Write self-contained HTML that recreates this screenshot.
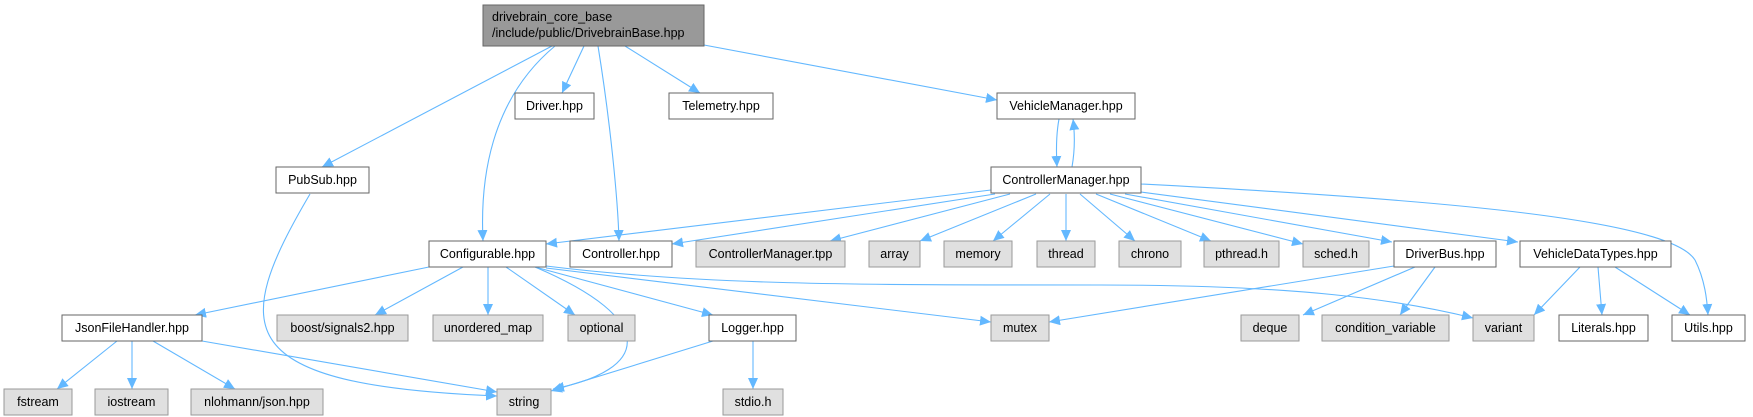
<!DOCTYPE html>
<html><head><meta charset="utf-8"><style>
html,body{margin:0;padding:0;background:#fff;}
svg{display:block;}
text{font-family:"Liberation Sans",Arial,sans-serif;font-size:12.5px;fill:#000;}
.w{fill:#fff;stroke:#666;stroke-width:1}
.g{fill:#e0e0e0;stroke:#999;stroke-width:1}
.e{fill:none;stroke:#63b8ff;stroke-width:1.1;marker-end:url(#a)}
</style></head><body>
<svg width="1753" height="417" viewBox="0 0 1753 417" xmlns="http://www.w3.org/2000/svg">
<defs><marker id="a" markerUnits="userSpaceOnUse" markerWidth="12" markerHeight="10" refX="11" refY="5" orient="auto"><path d="M0,0 L11,5 L0,10 z" fill="#63b8ff"/></marker></defs>
<!-- edges -->
<path class="e" d="M552,46 L322,167"/>
<path class="e" d="M555,46 C490,100 480,180 483,241"/>
<path class="e" d="M584,46 L562,93"/>
<path class="e" d="M598,46 C610,120 618,200 619,241"/>
<path class="e" d="M625,46 L700,93"/>
<path class="e" d="M704,45 L997,100"/>
<path class="e" d="M1059,119 C1056,135 1056,150 1057,167"/>
<path class="e" d="M1072,167 C1075,150 1075,135 1073,119"/>
<path class="e" d="M991,190 L546,244"/>
<path class="e" d="M995,194 L672,244"/>
<path class="e" d="M1010,194 L830,241"/>
<path class="e" d="M1036,194 L920,241"/>
<path class="e" d="M1050,194 L993,241"/>
<path class="e" d="M1066,194 L1066,241"/>
<path class="e" d="M1080,194 L1135,241"/>
<path class="e" d="M1096,194 L1211,241"/>
<path class="e" d="M1110,194 L1303,244"/>
<path class="e" d="M1125,194 L1392,242"/>
<path class="e" d="M1141,192 L1518,242"/>
<path class="e" d="M1141,184 C1450,200 1670,220 1695,260 C1705,280 1707,300 1708,315"/>
<path class="e" d="M429,267 L195,315"/>
<path class="e" d="M463,267 L375,315"/>
<path class="e" d="M488,267 L488,315"/>
<path class="e" d="M506,267 L575,315"/>
<path class="e" d="M535,267 L713,315"/>
<path class="e" d="M535,267 C660,320 650,370 553,389"/>
<path class="e" d="M546,268 L991,322"/>
<path class="e" d="M546,266 C700,285 850,285 1100,285 C1300,285 1400,300 1473,318"/>
<path class="e" d="M310,194 C230,330 230,385 497,396"/>
<path class="e" d="M117,341 L57,389"/>
<path class="e" d="M132,341 L132,389"/>
<path class="e" d="M153,341 L235,389"/>
<path class="e" d="M202,341 L497,392"/>
<path class="e" d="M713,341 L551,391"/>
<path class="e" d="M753,341 L753,389"/>
<path class="e" d="M1394,266 L1049,322"/>
<path class="e" d="M1415,267 L1303,315"/>
<path class="e" d="M1435,267 L1400,315"/>
<path class="e" d="M1580,267 L1534,315"/>
<path class="e" d="M1598,267 L1602,315"/>
<path class="e" d="M1615,267 L1690,315"/>
<!-- nodes -->
<rect x="483" y="5" width="221" height="41" fill="#999" stroke="#666"/>
<text x="492" y="21">drivebrain_core_base</text>
<text x="492" y="37">/include/public/DrivebrainBase.hpp</text>
<g text-anchor="middle">
<rect class="w" x="515" y="93" width="79" height="26"/><text x="554.5" y="110">Driver.hpp</text>
<rect class="w" x="669" y="93" width="104" height="26"/><text x="721" y="110">Telemetry.hpp</text>
<rect class="w" x="997" y="93" width="138" height="26"/><text x="1066" y="110">VehicleManager.hpp</text>
<rect class="w" x="276" y="167" width="93" height="26"/><text x="322.5" y="184">PubSub.hpp</text>
<rect class="w" x="991" y="167" width="150" height="26"/><text x="1066" y="184">ControllerManager.hpp</text>
<rect class="w" x="429" y="241" width="117" height="26"/><text x="487.5" y="258">Configurable.hpp</text>
<rect class="w" x="570" y="241" width="102" height="26"/><text x="621" y="258">Controller.hpp</text>
<rect class="g" x="696" y="241" width="149" height="26"/><text x="770.5" y="258">ControllerManager.tpp</text>
<rect class="g" x="869" y="241" width="51" height="26"/><text x="894.5" y="258">array</text>
<rect class="g" x="944" y="241" width="68" height="26"/><text x="978" y="258">memory</text>
<rect class="g" x="1037" y="241" width="58" height="26"/><text x="1066" y="258">thread</text>
<rect class="g" x="1119" y="241" width="62" height="26"/><text x="1150" y="258">chrono</text>
<rect class="g" x="1204" y="241" width="75" height="26"/><text x="1241.5" y="258">pthread.h</text>
<rect class="g" x="1303" y="241" width="66" height="26"/><text x="1336" y="258">sched.h</text>
<rect class="w" x="1394" y="241" width="102" height="26"/><text x="1445" y="258">DriverBus.hpp</text>
<rect class="w" x="1520" y="241" width="151" height="26"/><text x="1595.5" y="258">VehicleDataTypes.hpp</text>
<rect class="w" x="62" y="315" width="140" height="26"/><text x="132" y="332">JsonFileHandler.hpp</text>
<rect class="g" x="277" y="315" width="131" height="26"/><text x="342.5" y="332">boost/signals2.hpp</text>
<rect class="g" x="433" y="315" width="110" height="26"/><text x="488" y="332">unordered_map</text>
<rect class="g" x="568" y="315" width="67" height="26"/><text x="601.5" y="332">optional</text>
<rect class="w" x="709" y="315" width="87" height="26"/><text x="752.5" y="332">Logger.hpp</text>
<rect class="g" x="991" y="315" width="58" height="26"/><text x="1020" y="332">mutex</text>
<rect class="g" x="1241" y="315" width="58" height="26"/><text x="1270" y="332">deque</text>
<rect class="g" x="1322" y="315" width="127" height="26"/><text x="1385.5" y="332">condition_variable</text>
<rect class="g" x="1473" y="315" width="61" height="26"/><text x="1503.5" y="332">variant</text>
<rect class="w" x="1559" y="315" width="89" height="26"/><text x="1603.5" y="332">Literals.hpp</text>
<rect class="w" x="1672" y="315" width="73" height="26"/><text x="1708.5" y="332">Utils.hpp</text>
<rect class="g" x="4" y="389" width="68" height="26"/><text x="38" y="406">fstream</text>
<rect class="g" x="95" y="389" width="73" height="26"/><text x="131.5" y="406">iostream</text>
<rect class="g" x="191" y="389" width="132" height="26"/><text x="257" y="406">nlohmann/json.hpp</text>
<rect class="g" x="497" y="389" width="54" height="26"/><text x="524" y="406">string</text>
<rect class="g" x="723" y="389" width="60" height="26"/><text x="753" y="406">stdio.h</text>
</g>
</svg>
</body></html>
